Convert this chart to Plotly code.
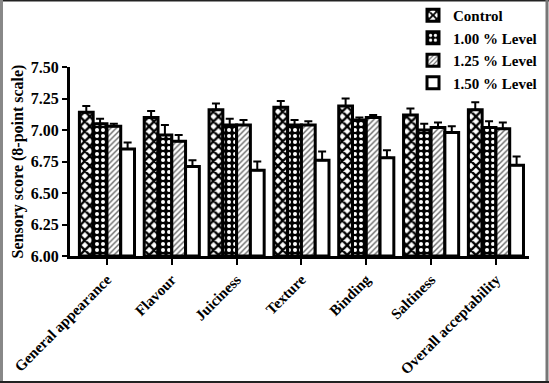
import plotly.graph_objects as go

categories = ["General appearance", "Flavour", "Juiciness", "Texture", "Binding", "Saltiness", "Overall acceptability"]
series_names = ["Control", "1.00 % Level", "1.25 % Level", "1.50 % Level"]
control = [7.14, 7.10, 7.16, 7.18, 7.19, 7.12, 7.16]
level_100 = [7.05, 6.96, 7.04, 7.04, 7.08, 7.00, 7.02]
level_125 = [7.03, 6.91, 7.04, 7.04, 7.10, 7.02, 7.01]
level_150 = [6.85, 6.71, 6.68, 6.76, 6.78, 6.98, 6.72]
err_control = [0.05, 0.05, 0.05, 0.05, 0.06, 0.05, 0.06]
err_100 = [0.04, 0.08, 0.05, 0.04, 0.02, 0.05, 0.05]
err_125 = [0.02, 0.05, 0.04, 0.03, 0.02, 0.04, 0.05]
err_150 = [0.05, 0.05, 0.07, 0.07, 0.06, 0.05, 0.07]

values = [control, level_100, level_125, level_150]
errors = [err_control, err_100, err_125, err_150]
patterns = [
    dict(shape="x", fgcolor="black", bgcolor="white", size=7, solidity=0.55, fillmode="replace"),
    dict(shape=".", fgcolor="white", bgcolor="black", size=6, solidity=0.35, fillmode="replace"),
    dict(shape="/", fgcolor="#666666", bgcolor="white", size=4, solidity=0.35, fillmode="replace"),
    dict(shape="", fgcolor="white", bgcolor="white", fillmode="replace"),
]

FONT = "Liberation Serif"
fig = go.Figure()
for name, v, e, p in zip(series_names, values, errors, patterns):
    fig.add_trace(go.Bar(
        x=categories, y=[val - 6 for val in v], base=6, name=name,
        marker=dict(color="white", line=dict(color="black", width=3), pattern=p),
        error_y=dict(type="data", symmetric=False, array=e, arrayminus=[0] * len(e),
                     color="black", thickness=2, width=4),
    ))

W, H = 549, 383
L, R, T, B = 70, 529, 67, 256
def px(x):
    return (x - L) / (R - L)
def py(y):
    return (B - y) / (B - T)

shapes = [
    dict(type="line", xref="paper", yref="paper", x0=px(0), x1=px(W), y0=py(0.5), y1=py(0.5), line=dict(color="#222", width=2)),
    dict(type="line", xref="paper", yref="paper", x0=px(1.5), x1=px(1.5), y0=py(0), y1=py(H), line=dict(color="#888", width=3)),
    dict(type="line", xref="paper", yref="paper", x0=px(547), x1=px(547), y0=py(0), y1=py(H), line=dict(color="#777", width=3)),
    dict(type="line", xref="paper", yref="paper", x0=px(0), x1=px(W), y0=py(382), y1=py(382), line=dict(color="#222", width=2)),
]

fig.update_layout(
    width=W, height=H,
    margin=dict(l=L, r=W - R, t=T, b=H - B, pad=0, autoexpand=False),
    paper_bgcolor="white", plot_bgcolor="white",
    barmode="group", bargap=0.15, bargroupgap=0.0,
    font=dict(family=FONT, color="black", size=13),
    showlegend=True,
    legend=dict(x=px(413), y=py(-1), xanchor="left", yanchor="top",
                font=dict(family=FONT, size=15, weight="bold", color="black"),
                bgcolor="rgba(0,0,0,0)", tracegroupgap=0, itemwidth=30),
    shapes=shapes,
    xaxis=dict(range=[-0.57, 6.51], showline=True, linecolor="black", linewidth=3,
               ticks="outside", ticklen=6, tickwidth=2, tickcolor="black",
               tickangle=-45, tickfont=dict(family=FONT, size=15, weight="bold"),
               showgrid=False, zeroline=False, automargin=False),
    yaxis=dict(range=[6, 7.5], dtick=0.25, tick0=6, tickformat=".2f",
               showline=True, linecolor="black", linewidth=3,
               ticks="outside", ticklen=5, tickwidth=2, tickcolor="black",
               tickfont=dict(family=FONT, size=16, weight="bold"),
               title=dict(text="Sensory score (8-point scale)", font=dict(family=FONT, size=16, weight="bold"), standoff=4),
               showgrid=False, zeroline=False, automargin=False),
)

fig.write_html("out.html", config={"displayModeBar": False},
               post_script="document.body.style.margin='0px';document.body.style.overflow='hidden';")
